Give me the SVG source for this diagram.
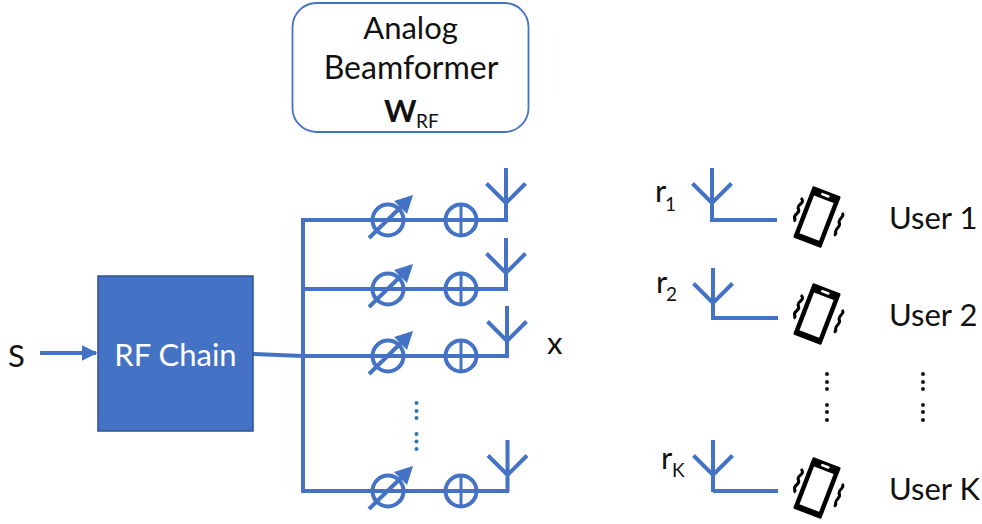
<svg xmlns="http://www.w3.org/2000/svg" width="982" height="524" viewBox="0 0 982 524">
<style>
.t{font-family:"Lato","Open Sans","Liberation Sans",sans-serif;fill:#111}
.l{font-size:31px}
.s{font-size:19px}
.w{stroke:#4472C4;stroke-width:4;fill:none}
.bd{fill:#2E75B6}
.kd{fill:#111}
</style>
<defs>
<marker id="ah" markerWidth="4" markerHeight="4" refX="3.6" refY="2" orient="auto" markerUnits="strokeWidth" viewBox="0 0 4 4"><path d="M0 0L4 2L0 4z" fill="#4472C4"/></marker>
<g id="ant"><path class="w" d="M0 0V52M-19.500 15.500L0 35L19.500 15.500"/></g>
<g id="ps"><circle class="w" r="15.500"/><path class="w" d="M-19 18L16 -16"/><path d="M25 -25L6 -19L19 -6z" fill="#4472C4"/></g>
<g id="add"><circle class="w" r="15.500"/><path d="M-15 0H15M0 -15V15" fill="none" stroke="#4472C4" stroke-width="3"/></g>
<g id="phone">
<g transform="rotate(21)">
<rect x="-15" y="-27.500" width="30" height="55" rx="1" fill="#000"/>
<rect x="-10.500" y="-19" width="21" height="40.500" fill="#fff"/>
<rect x="-4.500" y="-24.500" width="9" height="2.600" rx="1.200" fill="#fff"/>
</g>
<path d="M-16 -19q3 3 0 5.500t-3 4.500q2 3 -1 5.500t-2.500 4.500q1.500 2 -1 3M25 -4q2 2 -0.500 4.500t-2.500 4.500q1.500 3 -1 5.500t-2.500 4.500q1 2 -1.500 3.500" fill="none" stroke="#000" stroke-width="3"/>
</g>
</defs>
<g id="connectors">
<path class="w" d="M303 218V493"/>
<path class="w" d="M303 220H508"/>
<path class="w" d="M303 289H508"/>
<path class="w" d="M253 354L303 356H509"/>
<path class="w" d="M303 491H509"/>
<path class="w" d="M40 353H96" marker-end="url(#ah)"/>
<path class="w" d="M712 218V220H777M713 318H778M713 491H778"/>
</g>
<g id="rf-chain"><rect x="98" y="276" width="155" height="155" fill="#4472C4" stroke="#2F528F" stroke-width="1.500"/><text class="l" x="175.500" y="366" text-anchor="middle" style="font-family:Lato,sans-serif;fill:#fff">RF Chain</text></g>
<g id="s-label"><text class="t l" x="8" y="367">S</text></g>
<g id="beamformer"><rect x="292.500" y="3" width="236" height="129" rx="24" fill="#fff" stroke="#4472C4" stroke-width="1.800"/>
<text class="t l" x="410.500" y="39" text-anchor="middle">Analog</text>
<text class="t" x="411" y="79" text-anchor="middle" font-size="32">Beamformer</text>
<text class="t" x="384" y="122" font-size="31" font-weight="700">W</text><text class="t s" x="416" y="128">RF</text></g>
<g id="chain-1"><use href="#ps" x="388" y="220"/><use href="#add" x="461" y="220"/><use href="#ant" x="506" y="168"/></g>
<g id="chain-2"><use href="#ps" x="388" y="289"/><use href="#add" x="461" y="289"/><use href="#ant" x="506" y="238"/></g>
<g id="chain-3"><use href="#ps" x="388" y="356"/><use href="#add" x="461" y="356"/><use href="#ant" x="507" y="306"/></g>
<g id="chain-k"><use href="#ps" x="388" y="491"/><use href="#add" x="461" y="491"/><use href="#ant" x="507.500" y="440"/></g>
<g id="x-label"><text class="t l" x="547" y="354">x</text></g>
<g id="blue-dots" class="bd"><circle cx="416.500" cy="403" r="2"/><circle cx="416.500" cy="411" r="2"/><circle cx="416.500" cy="418" r="2"/><circle cx="416.500" cy="434" r="2"/><circle cx="416.500" cy="441.500" r="2"/><circle cx="416.500" cy="449" r="2"/></g>
<g id="user-1"><use href="#ant" x="712" y="168"/><use href="#phone" x="817" y="217"/><text class="t l" x="655" y="202">r</text><text class="t s" x="665" y="211">1</text><text class="t l" x="889" y="229">User 1</text></g>
<g id="user-2"><use href="#ant" x="713" y="268"/><use href="#phone" x="817" y="314"/><text class="t l" x="656" y="293">r</text><text class="t s" x="666" y="301">2</text><text class="t l" x="889" y="326">User 2</text></g>
<g id="user-k"><use href="#ant" x="713" y="440"/><use href="#phone" x="817" y="488"/><text class="t l" x="661" y="469">r</text><text class="t s" x="672" y="477">K</text><text class="t l" x="889" y="500">User K</text></g>
<g id="black-dots" class="kd"><circle cx="827" cy="374" r="2"/><circle cx="827" cy="382" r="2"/><circle cx="827" cy="389" r="2"/><circle cx="827" cy="405" r="2"/><circle cx="827" cy="412" r="2"/><circle cx="827" cy="420" r="2"/><circle cx="923" cy="374" r="2"/><circle cx="923" cy="382" r="2"/><circle cx="923" cy="389" r="2"/><circle cx="923" cy="405" r="2"/><circle cx="923" cy="412" r="2"/><circle cx="923" cy="420" r="2"/></g>
</svg>
